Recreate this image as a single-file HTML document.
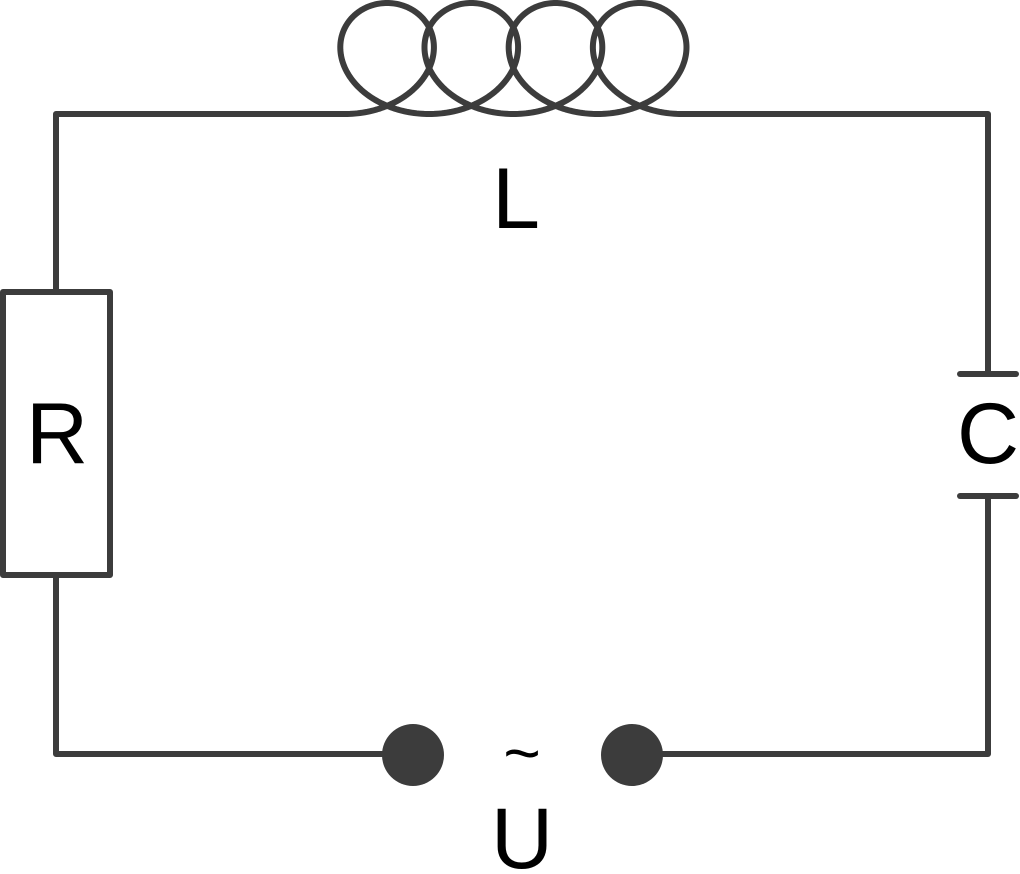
<!DOCTYPE html>
<html><head><meta charset="utf-8"><style>
html,body{margin:0;padding:0;background:#fff;width:1020px;height:874px;overflow:hidden}
svg{display:block}
text{font-family:"Liberation Sans",sans-serif;fill:#000}
</style></head><body>
<svg width="1020" height="874" viewBox="0 0 1020 874" xmlns="http://www.w3.org/2000/svg">
<g fill="none" stroke="#3c3c3c" stroke-width="6" stroke-linecap="round" stroke-linejoin="round">
<path id="coil" d=""/>
<polyline points="345,114 56,114 56,292"/>
<rect x="3" y="292" width="107" height="283"/>
<polyline points="56,575 56,754 413,754"/>
<polyline points="632,754 988,754 988,496"/>
<polyline points="681,114 988,114 988,374"/>
<line x1="960" y1="374" x2="1016" y2="374"/>
<line x1="960" y1="496" x2="1016" y2="496"/>
</g>
<circle cx="413" cy="755" r="31" fill="#3c3c3c"/>
<circle cx="632" cy="755" r="31" fill="#3c3c3c"/>
<text x="516" y="228" font-size="86" text-anchor="middle">L</text>
<text x="57" y="463" font-size="86" text-anchor="middle">R</text>
<text x="988" y="463" font-size="86" text-anchor="middle">C</text>
<text x="522" y="868" font-size="86" text-anchor="middle">U</text>
<text x="522" y="775" font-size="64" text-anchor="middle">~</text>
</svg>
<script>
(function(){var x0=345,r=13.4,d=66.5,e=55.5,yc=58.5,s="";
for(var i=0;i<=800;i++){var t=i/800*8*Math.PI;var x=x0+r*t+d*Math.sin(t);var y=yc+e*Math.cos(t);
s+=(i?"L":"M")+x.toFixed(2)+","+y.toFixed(2);}
document.getElementById("coil").setAttribute("d",s);})();
</script>
</body></html>
